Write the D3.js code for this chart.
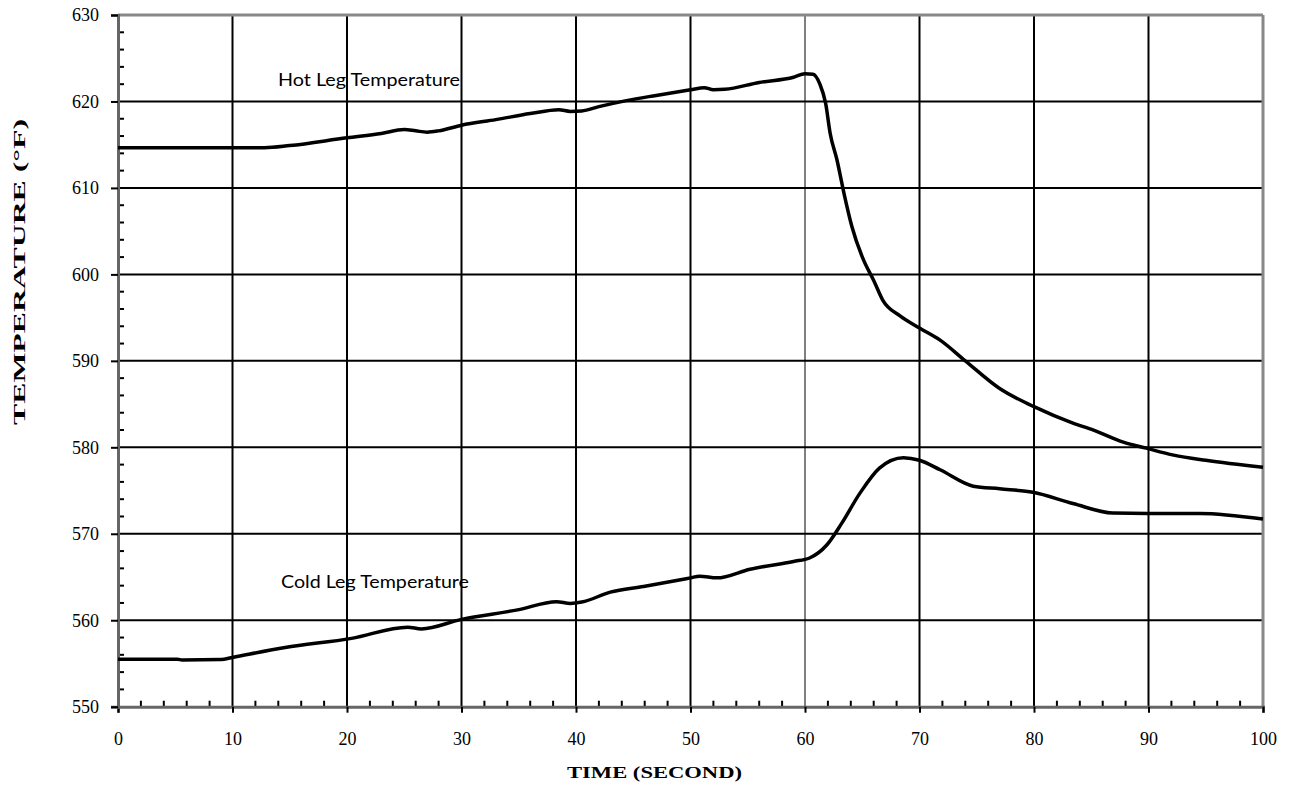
<!DOCTYPE html>
<html>
<head>
<meta charset="utf-8">
<script src="https://cdn.jsdelivr.net/npm/d3@7"></script>
<style>
  html, body { margin: 0; padding: 0; background: #fff; }
  svg { display: block; }
</style>
</head>
<body>
<svg id="chart" width="1294" height="788"></svg>
<script>
// ---- data ----
const hotTime = [0,12.8,15,20,23,25,26,27,28,30,33,36,38.5,39.5,40.5,42,44.4,47,50,51.2,52,53,56,59,60,60.7,61.3,61.8,62.2,62.8,63.4,64.1,65.1,66,66.8,68.3,70,71.8,74,77,80,83.4,85.2,87.8,89.8,92.2,95,100];
const hotTemp = [614.65,614.65,614.9,615.8,616.3,616.75,616.6,616.45,616.6,617.25,617.9,618.6,619.05,618.85,618.9,619.4,620.1,620.7,621.35,621.6,621.35,621.4,622.2,622.8,623.2,623.15,622.0,619.8,616.3,613.2,609.4,605.5,601.7,599.3,597.0,595.2,593.8,592.4,590.0,586.8,584.7,582.8,582.0,580.6,579.9,579.1,578.5,577.7];
const coldTime = [0,5.2,5.6,9,10,14.6,20.4,25.3,26.5,30,34.9,38.3,39.5,40.5,43,45.9,50,50.8,52.3,55.2,59,60.4,61.9,63.2,64.8,66.5,68.6,70,71.8,74.7,77,79.9,83.4,86.9,90,94.5,100];
const coldTemp = [555.5,555.5,555.4,555.45,555.7,556.85,557.9,559.2,559.0,560.1,561.2,562.15,561.95,562.1,563.25,563.9,564.9,565.1,564.9,565.9,566.8,567.2,568.7,571.2,574.7,577.6,578.8,578.5,577.4,575.5,575.2,574.8,573.5,572.4,572.35,572.35,571.7];
const xTicks = [0,10,20,30,40,50,60,70,80,90,100];
const yTicks = [550,560,570,580,590,600,610,620,630];
const seriesLabels = ["Hot Leg Temperature", "Cold Leg Temperature"];
const xTitle = "TIME (SECOND)";
const yTitle = "TEMPERATURE  (°F)";

// ---- layout ----
const L = 118, R = 1263, T = 15, B = 706.7;
const svg = d3.select("#chart");
const x = d3.scaleLinear().domain([0, 100]).range([L, R]);
const y = d3.scaleLinear().domain([550, 630]).range([B, T]);

// gridlines
const g = svg.append("g");
g.selectAll(".vg").data(xTicks.filter(d => d > 0 && d < 100)).enter().append("line")
  .attr("x1", d => x(d)).attr("x2", d => x(d)).attr("y1", T).attr("y2", B)
  .attr("stroke", "#000").attr("stroke-width", d => d === 60 ? 1 : 2);
g.selectAll(".hg").data(yTicks.filter(d => d > 550 && d < 630)).enter().append("line")
  .attr("x1", L).attr("x2", R).attr("y1", d => y(d)).attr("y2", d => y(d))
  .attr("stroke", "#000").attr("stroke-width", 2);

// frame (top/right gray)
svg.append("line").attr("x1", L).attr("x2", R).attr("y1", T).attr("y2", T).attr("stroke", "#888").attr("stroke-width", 3);
svg.append("line").attr("x1", R).attr("x2", R).attr("y1", T).attr("y2", B).attr("stroke", "#888").attr("stroke-width", 3);

// minor ticks
const xMinor = d3.range(0, 100.01, 2).filter(d => d % 10 !== 0);
const yMinor = d3.range(550, 630.01, 2).filter(d => d % 10 !== 0);
svg.selectAll(".xm").data(xMinor).enter().append("line")
  .attr("x1", d => x(d)).attr("x2", d => x(d)).attr("y1", B).attr("y2", B - 6)
  .attr("stroke", "#000").attr("stroke-width", 2);
svg.selectAll(".ym").data(yMinor).enter().append("line")
  .attr("x1", L).attr("x2", L + 6).attr("y1", d => y(d)).attr("y2", d => y(d))
  .attr("stroke", "#000").attr("stroke-width", 2);

// axes via d3
const xAxis = d3.axisBottom(x).tickValues(xTicks).tickSize(6).tickPadding(20).tickFormat(d3.format("d"));
const yAxis = d3.axisLeft(y).tickValues(yTicks).tickSize(7).tickPadding(12).tickFormat(d3.format("d"));
const gx = svg.append("g").attr("transform", `translate(0,${B})`).call(xAxis);
const gy = svg.append("g").attr("transform", `translate(${L},0)`).call(yAxis);
[gx, gy].forEach(a => {
  a.select(".domain").attr("stroke", "#666").attr("stroke-width", 3);
  a.selectAll(".tick line").attr("stroke", "#000").attr("stroke-width", 2);
  a.selectAll(".tick text").attr("fill", "#000")
    .style("font-family", "'Liberation Serif', 'Times New Roman', serif").style("font-size", "18px");
});

// lines
const line = d3.line().x(d => x(d[0])).y(d => y(d[1])).curve(d3.curveMonotoneX);
const hot = hotTime.map((t, i) => [t, hotTemp[i]]);
const cold = coldTime.map((t, i) => [t, coldTemp[i]]);
[hot, cold].forEach(s => {
  svg.append("path").datum(s).attr("d", line).attr("fill", "none")
    .attr("stroke", "#000").attr("stroke-width", 3.5).attr("stroke-linejoin", "round");
});

// series labels
const lblFont = "Lato, 'Open Sans', sans-serif";
svg.append("text").attr("x", 278).attr("y", 86).text(seriesLabels[0])
  .attr("textLength", 182).attr("lengthAdjust", "spacingAndGlyphs")
  .style("font-family", lblFont).style("font-size", "17px").attr("fill", "#000");
svg.append("text").attr("x", 281).attr("y", 588).text(seriesLabels[1])
  .attr("textLength", 188).attr("lengthAdjust", "spacingAndGlyphs")
  .style("font-family", lblFont).style("font-size", "17px").attr("fill", "#000");

// axis titles
const ttlFont = "'Liberation Serif', 'Times New Roman', serif";
svg.append("text").attr("x", 567).attr("y", 778).text(xTitle)
  .attr("textLength", 175).attr("lengthAdjust", "spacingAndGlyphs")
  .style("font-family", ttlFont).style("font-size", "17px").style("font-weight", "bold");
svg.append("text").attr("transform", "translate(25,425) rotate(-90)").text(yTitle)
  .attr("textLength", 306).attr("lengthAdjust", "spacingAndGlyphs")
  .style("font-family", ttlFont).style("font-size", "17px").style("font-weight", "bold");
</script>
</body>
</html>
